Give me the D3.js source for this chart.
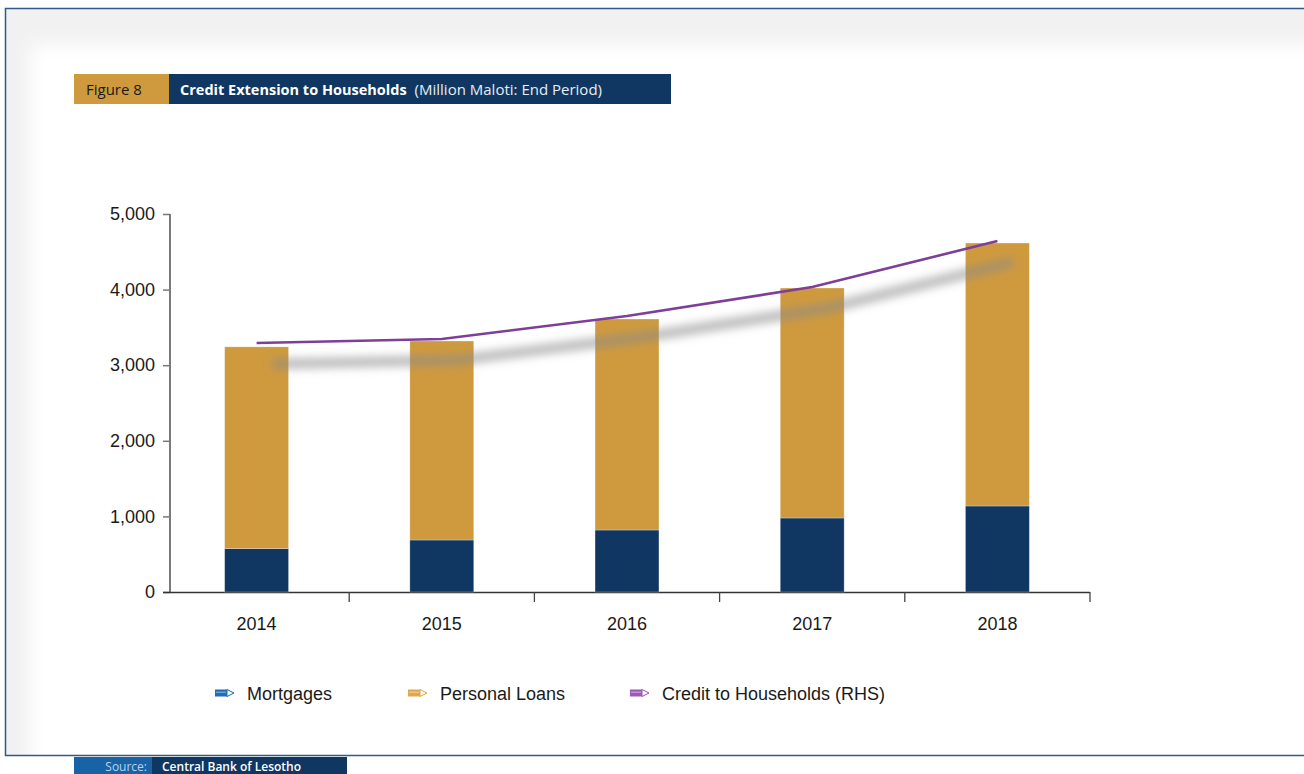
<!DOCTYPE html>
<html>
<head>
<meta charset="utf-8">
<script src="https://cdn.jsdelivr.net/npm/d3@7"></script>
<style>
  html, body { margin: 0; padding: 0; background: #fff; }
  svg { display: block; }
</style>
</head>
<body>
<svg id="chart" width="1304" height="774"></svg>
<script>
// ---- data ----
const years = ["2014", "2015", "2016", "2017", "2018"];
const mortgages = [575, 688, 820, 979, 1138];
const personalLoans = [2668, 2632, 2791, 3042, 3478];
const creditToHouseholds = [3294, 3347, 3651, 4034, 4643];
const yTicks = [0, 1000, 2000, 3000, 4000, 5000];
const seriesNames = ["Mortgages", "Personal Loans", "Credit to Households (RHS)"];

const NAVY = "#0f3761", GOLD = "#cf9a3e", PURPLE = "#7d3f98";

const svg = d3.select("#chart");
const defs = svg.append("defs");
defs.append("filter").attr("id", "panelBlur").attr("x", "-5%").attr("y", "-5%").attr("width", "110%").attr("height", "110%")
  .append("feGaussianBlur").attr("stdDeviation", 9);
defs.append("filter").attr("id", "lineBlur").attr("x", "-10%").attr("y", "-100%").attr("width", "120%").attr("height", "300%")
  .append("feGaussianBlur").attr("stdDeviation", 4.5);

// ---- background panel with soft shadow ----
svg.append("rect").attr("x", 6).attr("y", 9).attr("width", 1300).attr("height", 746).attr("fill", "#f1f1f1");
svg.append("rect").attr("x", 30).attr("y", 44).attr("width", 1300).attr("height", 760)
  .attr("fill", "#fff").attr("filter", "url(#panelBlur)");
svg.append("rect").attr("x", 0).attr("y", 756).attr("width", 74).attr("height", 18).attr("fill", "#fff");

// frame
svg.append("path")
  .attr("d", "M1310,8.5 H5.5 V755.5 H1310")
  .attr("fill", "none").attr("stroke", "#2f5a8c").attr("stroke-width", 1.5);

// ---- title banner ----
svg.append("rect").attr("x", 74).attr("y", 74).attr("width", 95).attr("height", 30).attr("fill", GOLD);
svg.append("rect").attr("x", 169).attr("y", 74).attr("width", 502).attr("height", 30).attr("fill", NAVY);
svg.append("text").attr("x", 86).attr("y", 95)
  .attr("font-family", "'Open Sans', sans-serif").attr("font-size", 15).attr("fill", "#1a1a1a")
  .text("Figure 8");
const t = svg.append("text").attr("x", 180).attr("y", 95)
  .attr("font-family", "'Open Sans', sans-serif").attr("fill", "#fff");
t.append("tspan").attr("font-weight", "bold").attr("font-size", 14.5).text("Credit Extension to Households");
t.append("tspan").attr("dx", 8).attr("font-size", 15).attr("fill", "#e8edf3").text("(Million Maloti: End Period)");

// ---- scales ----
const x = d3.scaleBand().domain(years).range([164, 1090]).paddingInner(0.655).paddingOuter(0.3275);
const y = d3.scaleLinear().domain([0, 5000]).range([592, 214]);

// axes
const yAxis = svg.append("g").attr("transform", "translate(170,0)")
  .call(d3.axisLeft(y).tickValues(yTicks).tickFormat(d3.format(",")).tickSize(7).tickPadding(8));
yAxis.select(".domain").attr("stroke", "#222").attr("stroke-width", 1.2).attr("d", "M0,214V592");
yAxis.selectAll(".tick line").attr("stroke", "#777").attr("stroke-width", 1.5);
yAxis.selectAll(".tick text").attr("font-family", "'Liberation Sans', Arial, sans-serif")
  .attr("font-size", 18).attr("fill", "#1a1a1a");

const xBound = d3.scaleLinear().domain([0, 5]).range([164, 1090]);
const xAxisG = svg.append("g");
xAxisG.append("line").attr("x1", 163).attr("x2", 1090).attr("y1", 592.5).attr("y2", 592.5)
  .attr("stroke", "#333").attr("stroke-width", 1.3);
xAxisG.selectAll("line.tk").data(d3.range(1, 6)).join("line").attr("class", "tk")
  .attr("x1", d => xBound(d)).attr("x2", d => xBound(d))
  .attr("y1", 592).attr("y2", 602).attr("stroke", "#444").attr("stroke-width", 1.3);
xAxisG.selectAll("text").data(years).join("text")
  .attr("x", d => x(d) + x.bandwidth() / 2).attr("y", 630)
  .attr("text-anchor", "middle")
  .attr("font-family", "'Liberation Sans', Arial, sans-serif").attr("font-size", 18).attr("fill", "#1a1a1a")
  .text(d => d);

// ---- stacked bars ----
const rows = years.map((yr, i) => ({ year: yr, Mortgages: mortgages[i], "Personal Loans": personalLoans[i] }));
const stack = d3.stack().keys(["Mortgages", "Personal Loans"])(rows);
const colors = { "Mortgages": NAVY, "Personal Loans": GOLD };
svg.append("g").selectAll("g").data(stack).join("g")
  .attr("fill", d => colors[d.key])
  .selectAll("rect").data(d => d).join("rect")
  .attr("x", d => x(d.data.year))
  .attr("width", x.bandwidth())
  .attr("y", d => y(d[1]))
  .attr("height", d => y(d[0]) - y(d[1]))
  .attr("stroke", "rgba(255,255,255,0.35)").attr("stroke-width", 0.8);

// ---- line with shadow ----
const line = d3.line()
  .x((d, i) => x(years[i]) + x.bandwidth() / 2)
  .y(d => y(d));
svg.append("path").datum(creditToHouseholds)
  .attr("d", line)
  .attr("transform", "translate(16,21)")
  .attr("fill", "none").attr("stroke", "#8a8a8a").attr("stroke-opacity", 0.55)
  .attr("stroke-width", 11).attr("filter", "url(#lineBlur)");
svg.append("path").datum(creditToHouseholds)
  .attr("d", line)
  .attr("fill", "none").attr("stroke", PURPLE).attr("stroke-width", 2.6);

// ---- legend ----
const legendItems = [
  { name: seriesNames[0], x: 215, body: "#1f6db3", light: "#8fbde6" },
  { name: seriesNames[1], x: 408, body: "#e0a84b", light: "#f3d6a3" },
  { name: seriesNames[2], x: 630, body: "#9b59b6", light: "#d2b0e0" }
];
const lg = svg.append("g").selectAll("g").data(legendItems).join("g")
  .attr("transform", d => `translate(${d.x},693)`);
lg.append("path").attr("d", "M0,-3.5 H12 L19,0 L12,3.5 H0 Z").attr("fill", d => d.body);
lg.append("path").attr("d", "M12,-3.5 L19,0 L12,3.5 Z").attr("fill", "#fff").attr("stroke", d => d.body).attr("stroke-width", 1);
lg.append("line").attr("x1", 1).attr("x2", 11).attr("y1", -0.8).attr("y2", -0.8)
  .attr("stroke", d => d.light).attr("stroke-width", 1);
lg.append("text").attr("x", 32).attr("y", 7)
  .attr("font-family", "'Liberation Sans', Arial, sans-serif").attr("font-size", 18).attr("fill", "#1a1a1a")
  .text(d => d.name);

// ---- source bar ----
svg.append("rect").attr("x", 74).attr("y", 757).attr("width", 78).attr("height", 20).attr("fill", "#1763a6");
svg.append("rect").attr("x", 152).attr("y", 757).attr("width", 195).attr("height", 20).attr("fill", NAVY);
svg.append("text").attr("x", 147).attr("y", 771).attr("text-anchor", "end")
  .attr("font-family", "'Open Sans', sans-serif").attr("font-size", 12).attr("fill", "#b9d3ee")
  .text("Source:");
svg.append("text").attr("x", 162).attr("y", 771)
  .attr("font-family", "'Open Sans', sans-serif").attr("font-size", 12).attr("font-weight", 600).attr("fill", "#fff")
  .text("Central Bank of Lesotho");
</script>
</body>
</html>
